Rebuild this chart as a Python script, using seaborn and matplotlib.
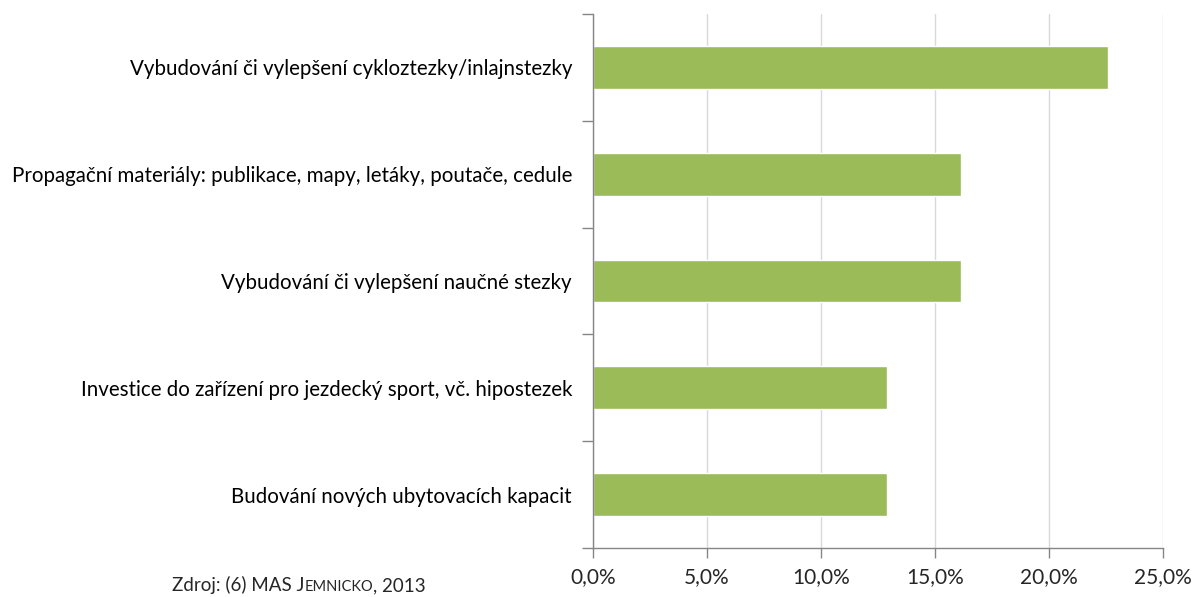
import matplotlib
matplotlib.use("Agg")
import matplotlib.pyplot as plt
import seaborn as sns
import pandas as pd
from matplotlib.ticker import FuncFormatter, FixedLocator

# data
categories = [
    "Vybudování či vylepšení cykloztezky/inlajnstezky",
    "Propagační materiály: publikace, mapy, letáky, poutače, cedule",
    "Vybudování či vylepšení naučné stezky",
    "Investice do zařízení pro jezdecký sport, vč. hipostezek",
    "Budování nových ubytovacích kapacit",
]
shares = [22.58, 16.13, 16.13, 12.90, 12.90]
x_ticks = [0, 5, 10, 15, 20, 25]

df = pd.DataFrame({"kategorie": categories, "podil": shares})

sns.set_style("white")
plt.rcParams["font.family"] = ["Lato", "DejaVu Sans"]

fig = plt.figure(figsize=(11.94, 5.97), dpi=100)
ax = fig.add_axes([0.4966, 0.082, 0.4775, 0.8945])

sns.barplot(data=df, y="kategorie", x="podil", orient="h", color="#9BBB59",
            saturation=1, width=0.4, ax=ax)

ax.set_xlim(0, 25)
ax.set_ylim(4.5, -0.5)
ax.set_xticks(x_ticks)
ax.xaxis.set_major_formatter(FuncFormatter(lambda v, p: f"{v:.1f}%".replace(".", ",")))
ax.grid(axis="x", color="#D9D9D9", linewidth=1)
ax.set_axisbelow(True)
ax.set_xlabel("")
ax.set_ylabel("")

for s in ["top", "right"]:
    ax.spines[s].set_visible(False)
for s in ["left", "bottom"]:
    ax.spines[s].set_color("#868686")
    ax.spines[s].set_linewidth(1)

ax.tick_params(axis="y", which="major", length=0, pad=15, labelsize=14.8, labelcolor="black")
ax.yaxis.set_minor_locator(FixedLocator([-0.5, 0.5, 1.5, 2.5, 3.5, 4.5]))
ax.tick_params(axis="y", which="minor", length=8, color="#868686", width=1, left=True)
ax.tick_params(axis="x", which="major", length=7, color="#868686", width=1, bottom=True,
               labelsize=15, pad=7)

# source note with small caps
fig.canvas.draw()
r = fig.canvas.get_renderer()
pieces = [("Zdroj: (6) MAS J", 13.5), ("EMNICKO", 10.5), (", 2013", 13.5)]
xpos = 172 / 1194
for txt, fs in pieces:
    t = fig.text(xpos, 6 / 597, txt, fontsize=fs, ha="left", va="baseline")
    bb = t.get_window_extent(renderer=r)
    xpos += bb.width / fig.bbox.width

fig.savefig("out.png", dpi=100)
